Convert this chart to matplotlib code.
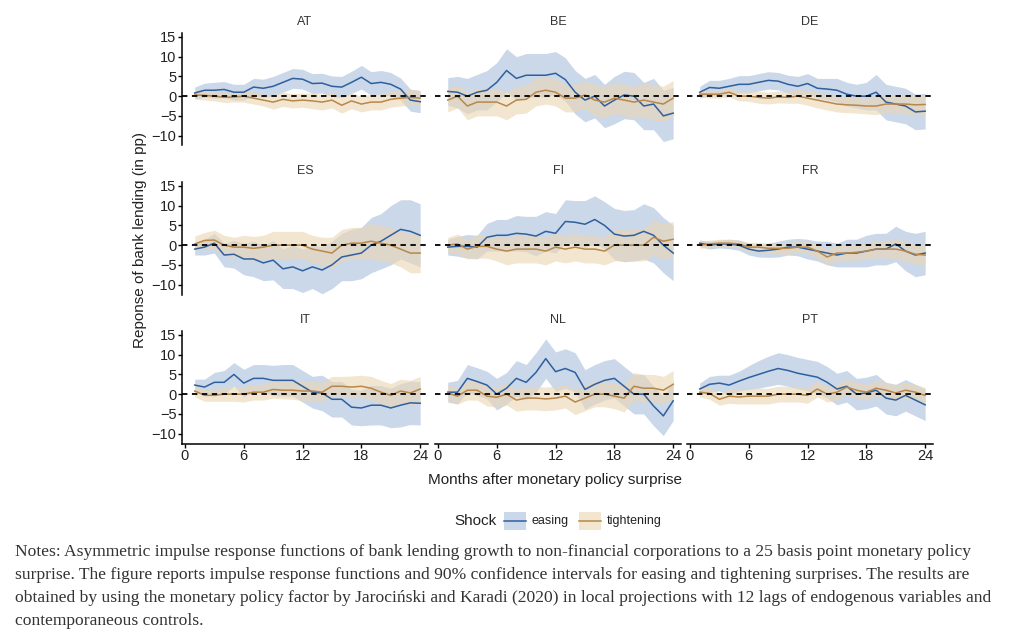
import matplotlib
matplotlib.use("Agg")
import matplotlib.pyplot as plt
import numpy as np

months = list(range(1, 25))
countries = ["AT", "BE", "DE", "ES", "FI", "FR", "IT", "NL", "PT"]

easing = {
 "AT": [0.8,1.5,1.5,1.7,1,1,2.3,2,2.5,3.5,4.5,4.3,3.2,3.3,2.5,2.3,3.5,4.8,3.2,3.5,3,1.8,-1,-1.4],
 "BE": [1.2,1,0,1,1.5,3.5,6.5,4.5,5.3,5.3,5.3,5.8,4.2,1,-1,0,-2.5,-1,0.3,0,-2.5,-2,-5,-4.3],
 "DE": [1,2.2,2,2.5,3,3,3.5,4,3.8,3,2.5,3.2,2,1.8,1.5,0.5,0,0,1,-1.5,-2,-2.5,-4,-3.8],
 "ES": [-1,-0.5,0.5,-2.5,-2.3,-3.5,-3.5,-4.5,-3.8,-6,-5.5,-6.5,-5.5,-6.3,-5,-3,-2.5,-2,0,1,2.5,4,3.5,2.5],
 "FI": [-0.5,-0.3,-0.3,-0.5,2,2.5,2.5,3,2.8,2.3,3.5,3,6,5.8,5.3,6.5,5,2.8,2.3,2.5,3.5,2.5,0,-2],
 "FR": [0.5,0,0.3,0.3,0,-1,-1.5,-1.3,-1,-0.5,-0.5,-1,-1.5,-2,-2.5,-2,-2,-1.5,-1,-1,0.3,-1.5,-2.5,-2],
 "IT": [2.3,1.8,3,3,5,2.8,4,4,3.5,3.5,3.5,2,0.5,0.3,-1.3,-1.3,-3.3,-3.5,-2.8,-2.8,-3.5,-2.8,-2.2,-2.3],
 "NL": [0.5,0.5,4,3.2,2.3,0,1.5,4,3,5.5,9,5.7,6.5,5.5,1.2,2.5,3.5,4,2,0,0,-3,-5.5,-1.7],
 "PT": [1.3,2.5,2.8,2.3,3.3,4.2,5,5.8,6.5,6,5.3,4.8,4.3,3,1.3,2,0,0.3,1,-1,-1.5,-0.3,-1.5,-2.7],
}
easing_hw = {
 "AT": [1.5,1.8,2,2,2,2,2.2,2.3,2.5,2.5,2.5,2.5,2.5,2.5,2.6,2.7,2.8,3,3,3,3,2.8,2.8,2.8],
 "BE": [3.5,4,4.5,4.5,5,5,5.5,5.5,5.5,5.5,5.5,5.5,5.5,5.5,5.5,5.5,5.5,6,6,6,6,6.5,6.5,6.5],
 "DE": [1.5,1.8,2,2,2.2,2.2,2.2,2.2,2.2,2.3,2.5,2.5,2.5,2.7,3,3,3,3.5,4.5,4.5,4.5,4.5,4.5,4.5],
 "ES": [1.5,2,2.5,3,3.5,4,4.5,4.5,5,5,5.5,5.5,5.5,6,6,6,6.5,6.5,7,7,7.5,7.5,8,8],
 "FI": [2,2.5,3,3,3.5,4,4,4.5,4.5,5,5,5,5.5,5.5,6,6,6,6.5,6.5,6.5,7,7,7,7],
 "FR": [0.8,1,1,1.2,1.3,1.5,1.5,1.8,2,2,2.2,2.5,2.5,3,3,3.5,3.5,4,4,4,4.5,5,5.5,5.5],
 "IT": [1.5,2,2.5,3,3,3.5,3.5,3.5,3.8,4,4,4,4,4.5,4.5,4.5,4.5,4.5,5,5,5,5.5,5.5,5.5],
 "NL": [2.5,3,3.5,3.5,3.5,4,4,4.5,4.5,5,5,5,5,5,5,5,5,5,5,5,5,5,5,5],
 "PT": [1.5,2,2,2.5,2.5,3,3.5,3.8,4,4,4,4,4,4,4,4,4,4,4,4,4,4,4,4],
}
tight = {
 "AT": [0.3,0.2,0,-0.3,-0.2,0,-0.5,-1,-1.5,-0.8,-1.2,-1,-1.2,-1.5,-1,-2.3,-1.2,-2,-1.5,-1.5,-0.8,-0.5,-0.3,-0.5],
 "BE": [-1,0,-2.5,-1.5,-1.5,-1.5,-2.5,-1,-0.8,1,1.5,1,-0.5,-0.5,0.3,-1,-1.5,-0.5,-1,-1.5,-1,-1.5,-2,-0.5],
 "DE": [0.5,0.5,0.5,1,0,0,-0.3,-0.5,-0.2,-0.3,0,-0.5,-1,-1.5,-2,-2.2,-2.3,-2.5,-2.5,-2,-2,-2,-2.2,-2.1],
 "ES": [0.3,1.2,1.3,0,-0.5,-0.5,-0.8,-0.5,0,0,0,0,-1,-1.5,-2,0,0.5,0.5,1,0.5,0,-1,-2,-2],
 "FI": [0,0.3,-1,-0.3,-0.3,-1,-1.5,-1,-1,-1,-1.5,-0.5,-1,-0.5,-1,-1,-1.5,0,0,0,0,2,1,1.5],
 "FR": [0,0.3,0.5,0.5,0.3,-0.5,-0.5,-0.8,-0.8,-0.8,-0.5,-0.5,-1.5,-3,-2,-2,-1.8,-1.5,-1,-1,-1,-1.5,-2.3,-2.5],
 "IT": [0.8,-0.3,-0.3,0,0,0,0.5,0.5,1.2,1,1,0.8,0.8,0.5,2,2,1.8,2,1.5,0.5,-0.3,0.8,0.3,1.3],
 "NL": [0.3,-0.5,1,1,-0.5,-0.8,0,-1.5,-1,-1,-1.2,-1,-0.5,-2,-1,0,0,-0.5,-1,2,1.5,1.5,1,2.5],
 "PT": [0.5,0.2,-1.3,-0.5,-0.7,-0.5,-0.5,-0.5,0,0,0,-0.3,1.3,0,0.5,1.8,1,0.5,1.5,1,0.3,1,0.5,-0.3],
}
tight_hw = {
 "AT": [1,1.2,1.2,1.3,1.3,1.5,1.5,1.5,1.8,1.8,1.8,1.8,2,2,2,2,2,2,2,2,2,2,2,2],
 "BE": [3,3,3.5,3.5,3.5,3.5,3.5,3.5,3.5,3.5,3.5,3.5,3.5,3.5,3.5,4,4,4,4,4,4.2,4.5,4.5,4.5],
 "DE": [0.8,1,1,1.2,1.2,1.3,1.5,1.5,1.5,1.5,1.8,1.8,2,2,2,2,2,2,2.2,2.2,2.3,2.5,2.5,2.5],
 "ES": [2,2,2.5,2.5,2.5,3,3,3,3.5,3.5,3.5,3.5,3.5,3.5,4,4,4,4,4.5,4.5,4.5,4.5,5,5],
 "FI": [2,2.5,2.5,3,3,3,3.5,3.5,3.5,3.5,3.5,3.5,3.5,3.5,3.5,3.5,3.5,4,4,4,4,4.5,4.5,4.5],
 "FR": [0.8,1,1,1,1,1.2,1.2,1.3,1.5,1.5,1.5,1.5,1.8,2,2,2,2,2,2.2,2.2,2.5,2.5,2.5,2.5],
 "IT": [1.5,1.5,1.5,1.8,1.8,2,2,2,2.2,2.2,2.3,2.5,2.5,2.5,2.5,2.5,2.8,2.8,3,3,3,3,3.2,3.2],
 "NL": [2,2,2.5,2.5,2.5,2.5,2.8,2.8,3,3,3,3,3,3.2,3.2,3.2,3.2,3.2,3.5,3.5,3.5,3.5,3.5,3.5],
 "PT": [1.2,1.5,1.5,1.8,1.8,2,2,2,2,2,2,2,2,2,2,2,2,2,2,2,2,2,2,2],
}

x_ticks = [0, 6, 12, 18, 24]
y_ticks = [-10, -5, 0, 5, 10, 15]
y_labels = ["\u221210", "\u22125", "0", "5", "10", "15"]

ease_line, ease_fill = "#2f5f9e", "#a7bfdb"
tight_line, tight_fill = "#b8874a", "#ecd6b3"
SANS = "Liberation Sans"

fig = plt.figure(figsize=(10.24, 6.43), dpi=100)
W, H = 1024, 643
lefts = [182, 435, 687]
pw = 246
bottoms = [145.5, 294.5, 443.5]
ph = 112.5

for i, c in enumerate(countries):
    r, col = divmod(i, 3)
    ax = fig.add_axes([lefts[col] / W, 1 - bottoms[r] / H, pw / W, ph / H])
    m = np.array(months)
    e = np.array(easing[c]); eh = np.array(easing_hw[c])
    t = np.array(tight[c]); th = np.array(tight_hw[c])
    ax.fill_between(m, e - eh, e + eh, color=ease_fill, alpha=0.6, lw=0)
    ax.fill_between(m, t - th, t + th, color=tight_fill, alpha=0.6, lw=0)
    ax.plot(m, e, color=ease_line, lw=1.1)
    ax.plot(m, t, color=tight_line, lw=1.1)
    ax.axhline(0, color="black", ls=(0, (3, 2.5)), lw=1.3)
    ax.set_xlim(-0.3, 24.8)
    ax.set_ylim(-12.5, 16)
    for s in ["top", "right"]:
        ax.spines[s].set_visible(False)
    ax.text(0.5, 1.1, c, transform=ax.transAxes, ha="center", va="center",
            fontsize=9, color="#333333", family=SANS)
    if col == 0:
        ax.set_yticks(y_ticks)
        ax.set_yticklabels(y_labels, fontsize=10.5, color="#222222", family=SANS)
        ax.spines["left"].set_linewidth(1.1)
    else:
        ax.spines["left"].set_visible(False)
        ax.set_yticks([])
    if r == 2:
        ax.set_xticks(x_ticks)
        ax.set_xticklabels([str(v) for v in x_ticks], fontsize=10.5, color="#222222", family=SANS)
        ax.spines["bottom"].set_linewidth(1.1)
    else:
        ax.spines["bottom"].set_visible(False)
        ax.set_xticks([])
    ax.tick_params(length=3, width=1, pad=1)

fig.text(555 / W, 1 - 480 / H, "Months after monetary policy surprise",
         ha="center", va="center", fontsize=11, color="#222222", family=SANS)
fig.text(140 / W, 1 - 240 / H, "Reponse of bank lending (in pp)", rotation=90,
         ha="center", va="center", fontsize=11, color="#222222", family=SANS)

# legend
ly = 1 - 521 / H
fig.text(497 / W, ly, "Shock", ha="right", va="center", fontsize=11, color="#222222", family=SANS)
lax = fig.add_axes([502 / W, 1 - 531 / H, 180 / W, 20 / H])
lax.set_xlim(0, 180); lax.set_ylim(0, 20); lax.axis("off")
lax.add_patch(plt.Rectangle((2, 1), 22, 18, color=ease_fill, alpha=0.6, lw=0))
lax.plot([2, 24], [10, 10], color=ease_line, lw=1.1)
lax.text(30, 10, "easing", va="center", fontsize=9, color="#222222", family=SANS)
lax.add_patch(plt.Rectangle((77, 1), 22, 18, color=tight_fill, alpha=0.6, lw=0))
lax.plot([77, 99], [10, 10], color=tight_line, lw=1.1)
lax.text(105, 10, "tightening", va="center", fontsize=9, color="#222222", family=SANS)

notes = [
 "Notes: Asymmetric impulse response functions of bank lending growth to non-financial corporations to a 25 basis point monetary policy",
 "surprise. The figure reports impulse response functions and 90% confidence intervals for easing and tightening surprises. The results are",
 "obtained by using the monetary policy factor by Jaroci\u0144ski and Karadi (2020) in local projections with 12 lags of endogenous variables and",
 "contemporaneous controls.",
]
for k, line in enumerate(notes):
    fig.text(15 / W, 1 - (552 + 23 * k) / H, line, ha="left", va="center",
             fontsize=12.6, family="Liberation Serif", color="#333333")

fig.savefig("out.png", dpi=100, facecolor="white")
